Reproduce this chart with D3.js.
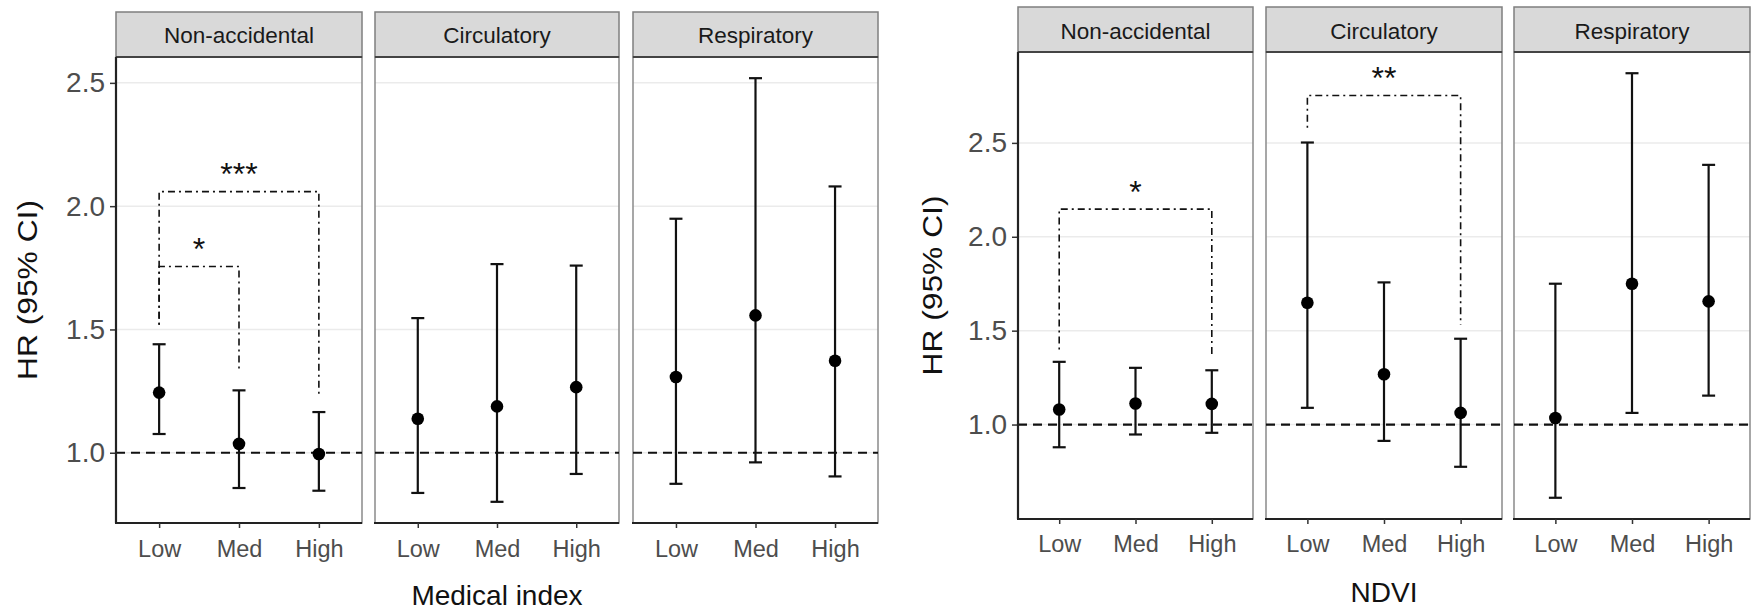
<!DOCTYPE html>
<html>
<head>
<meta charset="utf-8">
<script src="https://cdn.jsdelivr.net/npm/d3@7"></script>
<style>
  html, body { margin: 0; padding: 0; background: #fff; }
  svg { display: block; font-family: "Liberation Sans", Arial, Helvetica, sans-serif; }
</style>
</head>
<body>
<svg id="chart" width="1752" height="611"></svg>
<script>
// ---------- data ----------
const categories = ["Low", "Med", "High"];
const causes = ["Non-accidental", "Circulatory", "Respiratory"];
const yTickValues = [1.0, 1.5, 2.0, 2.5];

// Medical index (rows = causes, cols = categories)
const medHR    = [[1.244, 1.036, 0.995], [1.138, 1.188, 1.266], [1.307, 1.557, 1.373]];
const medLower = [[1.076, 0.857, 0.846], [0.837, 0.801, 0.914], [0.874, 0.961, 0.904]];
const medUpper = [[1.440, 1.253, 1.165], [1.546, 1.765, 1.759], [1.949, 2.519, 2.080]];
const medBrackets = [
  { panel: 0, from: "Low", to: "High", top: 2.059, endFrom: 1.519, endTo: 1.235, label: "***" },
  { panel: 0, from: "Low", to: "Med",  top: 1.755, endFrom: 1.519, endTo: 1.330, label: "*" }
];

// NDVI
const ndviHR    = [[1.080, 1.112, 1.110], [1.649, 1.268, 1.062], [1.035, 1.750, 1.656]];
const ndviLower = [[0.879, 0.947, 0.956], [1.089, 0.913, 0.775], [0.610, 1.062, 1.154]];
const ndviUpper = [[1.334, 1.302, 1.289], [2.502, 1.757, 1.457], [1.750, 2.871, 2.383]];
const ndviBrackets = [
  { panel: 0, from: "Low", to: "High", top: 2.147, endFrom: 1.399, endTo: 1.372, label: "*" },
  { panel: 1, from: "Low", to: "High", top: 2.752, endFrom: 2.581, endTo: 1.532, label: "**" }
];

// ---------- drawing ----------
const svg = d3.select("#chart");

function drawPlot(cfg) {
  const g = svg.append("g");
  const all = cfg.lower.flat().concat(cfg.upper.flat());
  const lo = d3.min(all), hi = d3.max(all);
  const ex = (hi - lo) * 0.05;
  const y = d3.scaleLinear().domain([lo - ex, hi + ex]).range([cfg.bottom, cfg.top]);

  cfg.panels.forEach((px, pi) => {
    const x = d3.scalePoint().domain(categories).range(px).padding(0.54);
    const pg = g.append("g");

    // strip
    pg.append("rect")
      .attr("x", px[0]).attr("y", cfg.stripTop)
      .attr("width", px[1] - px[0]).attr("height", cfg.top - cfg.stripTop)
      .attr("fill", "#d9d9d9").attr("stroke", "#7f7f7f").attr("stroke-width", 1.5);
    pg.append("text")
      .attr("x", (px[0] + px[1]) / 2).attr("y", cfg.stripBaseline)
      .attr("text-anchor", "middle").attr("font-size", 22.5).attr("fill", "#1a1a1a")
      .text(causes[pi]);

    // grid
    pg.selectAll(".grid").data(yTickValues).enter().append("line")
      .attr("x1", px[0]).attr("x2", px[1])
      .attr("y1", d => y(d)).attr("y2", d => y(d))
      .attr("stroke", "#ebebeb").attr("stroke-width", 1.5);

    // panel border
    pg.append("rect")
      .attr("x", px[0]).attr("y", cfg.top)
      .attr("width", px[1] - px[0]).attr("height", cfg.bottom - cfg.top)
      .attr("fill", "none").attr("stroke", "#8a8a8a").attr("stroke-width", 1.5);
    // top line (strip bottom) and bottom axis line
    pg.append("line").attr("x1", px[0]).attr("x2", px[1]).attr("y1", cfg.top).attr("y2", cfg.top)
      .attr("stroke", "#444").attr("stroke-width", 2);
    pg.append("line").attr("x1", px[0] - 1).attr("x2", px[1]).attr("y1", cfg.bottom).attr("y2", cfg.bottom)
      .attr("stroke", "#222").attr("stroke-width", 2.2);

    // x axis
    const xAxis = d3.axisBottom(x).tickSize(5).tickPadding(6);
    const xa = pg.append("g").attr("transform", `translate(0,${cfg.bottom})`).call(xAxis);
    xa.select(".domain").remove();
    xa.selectAll(".tick line").attr("stroke", "#333").attr("stroke-width", 1.5);
    xa.selectAll(".tick text").attr("font-size", 23.5).attr("fill", "#4d4d4d")
      .attr("dy", null).attr("y", cfg.xLabelOffset);

    // reference line at 1
    pg.append("line").attr("x1", px[0]).attr("x2", px[1])
      .attr("y1", y(1)).attr("y2", y(1))
      .attr("stroke", "#111").attr("stroke-width", 2.2).attr("stroke-dasharray", "9,6");

    // brackets
    cfg.brackets.filter(b => b.panel === pi).forEach(b => {
      const x1 = x(b.from), x2 = x(b.to), yt = y(b.top);
      pg.append("path")
        .attr("d", `M${x1},${y(b.endFrom)}V${yt}H${x2}V${y(b.endTo)}`)
        .attr("fill", "none").attr("stroke", "#111").attr("stroke-width", 1.6)
        .attr("stroke-dasharray", "2,4,7,4");
      pg.append("text")
        .attr("x", (x1 + x2) / 2).attr("y", yt - 25 + 18.4)
        .attr("text-anchor", "middle").attr("font-size", 32).attr("fill", "#111")
        .text(b.label);
    });

    // error bars
    categories.forEach((c, ci) => {
      const cx = x(c);
      const yl = y(cfg.lower[pi][ci]), yu = y(cfg.upper[pi][ci]);
      const eg = pg.append("g").attr("stroke", "#111").attr("stroke-width", 2.2);
      eg.append("line").attr("x1", cx).attr("x2", cx).attr("y1", yl).attr("y2", yu);
      eg.append("line").attr("x1", cx - 6.5).attr("x2", cx + 6.5).attr("y1", yl).attr("y2", yl);
      eg.append("line").attr("x1", cx - 6.5).attr("x2", cx + 6.5).attr("y1", yu).attr("y2", yu);
      pg.append("circle").attr("cx", cx).attr("cy", y(cfg.hr[pi][ci])).attr("r", 6.3).attr("fill", "#000");
    });

    // y axis on first panel only
    if (pi === 0) {
      const yAxis = d3.axisLeft(y).tickValues(yTickValues).tickFormat(d3.format(".1f")).tickSize(6).tickPadding(5);
      const ya = pg.append("g").attr("transform", `translate(${px[0]},0)`).call(yAxis);
      ya.select(".domain").remove();
      ya.selectAll(".tick line").attr("stroke", "#333").attr("stroke-width", 1.5);
      ya.selectAll(".tick text").attr("font-size", 28).attr("fill", "#4d4d4d");
      pg.append("line").attr("x1", px[0]).attr("x2", px[0]).attr("y1", cfg.top).attr("y2", cfg.bottom)
        .attr("stroke", "#222").attr("stroke-width", 2.2);
    }
  });

  // axis titles
  g.append("text")
    .attr("transform", `translate(${cfg.yTitleX},${(cfg.top + cfg.bottom) / 2}) rotate(-90)`)
    .attr("text-anchor", "middle").attr("dy", "0.36em").attr("font-size", 28).attr("fill", "#111")
    .attr("textLength", 180).attr("lengthAdjust", "spacingAndGlyphs")
    .text("HR (95% CI)");
  const mid = cfg.panels[1];
  g.append("text")
    .attr("x", (mid[0] + mid[1]) / 2).attr("y", cfg.xTitleBaseline)
    .attr("text-anchor", "middle").attr("font-size", 28).attr("fill", "#111")
    .text(cfg.xTitle);
}

drawPlot({
  hr: medHR, lower: medLower, upper: medUpper, brackets: medBrackets,
  panels: [[116, 362], [375, 619], [633, 878]],
  stripTop: 12, top: 57, bottom: 523, stripBaseline: 43,
  xLabelOffset: 34, xTitleBaseline: 605, yTitleX: 27, xTitle: "Medical index"
});
drawPlot({
  hr: ndviHR, lower: ndviLower, upper: ndviUpper, brackets: ndviBrackets,
  panels: [[1018, 1253], [1266, 1502], [1514, 1750]],
  stripTop: 7, top: 52, bottom: 519, stripBaseline: 39,
  xLabelOffset: 33, xTitleBaseline: 602, yTitleX: 932, xTitle: "NDVI"
});
</script>
</body>
</html>
